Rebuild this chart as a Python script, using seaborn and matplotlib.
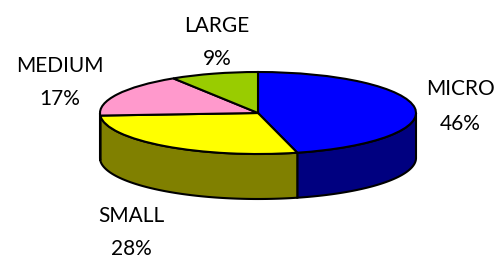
import numpy as np
import matplotlib
matplotlib.use("Agg")
import matplotlib.pyplot as plt
import seaborn as sns

categories = ["MICRO", "SMALL", "MEDIUM", "LARGE"]
shares = [46, 28, 17, 9]
top_colors = ["#0000FF", "#FFFF00", "#FF99CC", "#99CC00"]
side_colors = ["#000080", "#808000", "#80405F", "#4C6600"]

sns.set_theme(style="white")
plt.rcParams["font.family"] = ["Lato", "DejaVu Sans"]

W, H = 500, 258
fig = plt.figure(figsize=(W / 100, H / 100), dpi=100)
ax = fig.add_axes([0, 0, 1, 1])

# pixel geometry of the tilted pie
cx, cy, a_px, b_px, depth_px = 258, 113, 158, 41, 45
depth = depth_px / b_px

# side walls (front half only)
start = 90.0
total = float(sum(shares))
for val, col in zip(shares, side_colors):
    sweep = val / total * 360.0
    t1, t2 = start - sweep, start  # clockwise
    start = t1
    segs = []
    for off in (0, -360, 360):
        lo, hi = max(t1 + off, -180), min(t2 + off, 0)
        if hi > lo:
            segs.append((lo, hi))
    for lo, hi in segs:
        t = np.radians(np.linspace(lo, hi, 120))
        xs = np.concatenate([np.cos(t), np.cos(t[::-1])])
        ys = np.concatenate([np.sin(t), np.sin(t[::-1]) - depth])
        ax.fill(xs, ys, facecolor=col, edgecolor="black", linewidth=1.5, zorder=1)

ax.pie(shares, colors=top_colors, startangle=90, counterclock=False,
       radius=1, center=(0, 0),
       wedgeprops=dict(edgecolor="black", linewidth=1.5, zorder=2))

ax.set_aspect("auto")
ax.set_xlim((0 - cx) / a_px, (W - cx) / a_px)
ax.set_ylim((cy - H) / b_px, cy / b_px)
ax.axis("off")

label_pos = {
    "MICRO": (460, 95, 130),
    "SMALL": (131, 222, 255),
    "MEDIUM": (60, 72, 105),
    "LARGE": (217, 32, 65),
}
for name, val in zip(categories, shares):
    x, y1, y2 = label_pos[name]
    fig.text(x / W, 1 - y1 / H, name, ha="center", va="baseline",
             fontsize=15, color="black")
    fig.text(x / W, 1 - y2 / H, f"{val}%", ha="center", va="baseline",
             fontsize=15, color="black")

fig.savefig("out.png", dpi=100, facecolor="white")
